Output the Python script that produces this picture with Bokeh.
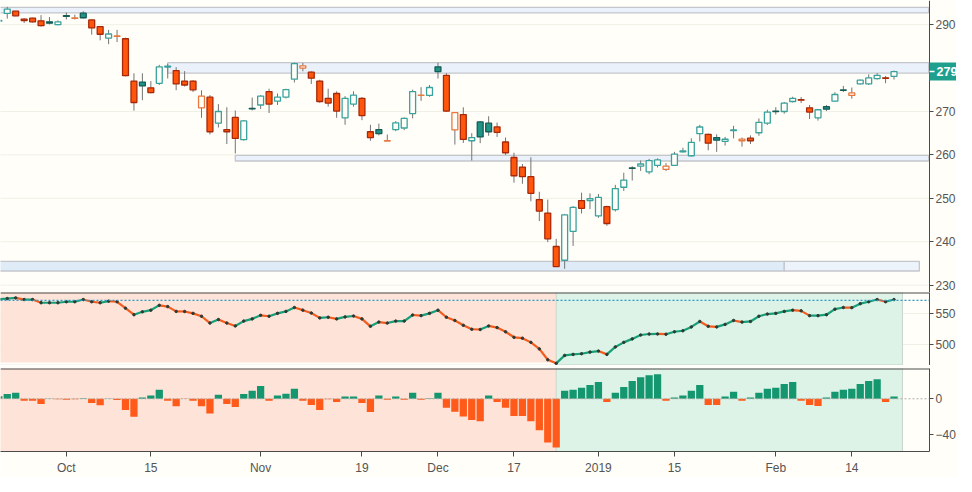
import pandas as pd
from bokeh.plotting import figure
from bokeh.layouts import column
from bokeh.models import Range1d, FixedTicker, Span, LinearAxis, ColumnDataSource
from bokeh.embed import file_html
from bokeh.resources import INLINE

# ---------------- data ----------------
holidays = ["2018-11-22", "2018-12-05", "2018-12-25", "2019-01-01", "2019-01-21", "2019-02-18"]
dates = [d for d in pd.bdate_range("2018-09-19", "2019-02-22") if d.strftime("%Y-%m-%d") not in holidays]

opens = [290.8, 292.6, 293.1, 291.3, 291.5, 290.88, 290.66, 290.0, 292.1, 291.45,
         292.64, 291.1, 289.56, 286.9, 287.3, 286.76, 277.0, 276.78, 275.46, 276.48,
         280.25, 279.43, 277.0, 277.0, 270.84, 273.3, 267.31, 265.84, 268.64, 263.5,
         270.7, 271.5, 274.58, 272.38, 273.33, 277.44, 280.0, 279.05, 277.0, 273.04,
         274.14, 268.55, 271.72, 273.04, 265.33, 265.84, 263.2, 265.84, 266.2, 269.52,
         273.7, 273.7, 280.3, 278.33, 265.77, 269.3, 263.26, 267.6, 267.3, 266.44,
         262.97, 259.4, 257.2, 254.98, 249.7, 246.6, 238.9, 235.73, 242.4, 249.47,
         249.47, 245.95, 248.07, 247.4, 252.55, 257.0, 257.4, 256.1, 257.6, 256.65,
         257.6, 260.7, 259.8, 264.89, 264.74, 264.0, 263.13, 265.6, 263.26, 263.85,
         265.1, 267.3, 270.1, 270.0, 272.3, 272.7, 270.84, 268.55, 271.1, 272.38,
         274.95, 273.7, 276.34, 276.34, 277.58, 277.75, 278.1]
highs = [291.4, 294.1, 293.15, 291.5, 291.6, 292.2, 291.76, 291.0, 292.8, 292.3,
         293.1, 291.2, 289.7, 288.8, 288.8, 287.0, 278.8, 278.8, 277.0, 280.75,
         281.0, 280.2, 279.3, 277.2, 274.87, 273.77, 271.7, 270.97, 270.24, 268.0,
         273.2, 273.77, 275.24, 274.14, 275.24, 281.26, 281.2, 279.27, 277.3, 275.24,
         274.65, 273.55, 274.65, 273.33, 266.94, 267.2, 264.7, 267.8, 268.63, 275.02,
         275.6, 276.1, 281.26, 278.83, 269.87, 270.97, 265.0, 267.8, 268.9, 267.45,
         264.0, 260.5, 257.9, 259.45, 251.5, 249.7, 240.66, 246.4, 248.2, 251.3,
         251.15, 251.0, 248.3, 253.1, 255.9, 257.4, 258.7, 259.07, 259.2, 258.1,
         260.7, 261.65, 263.8, 266.94, 264.9, 264.74, 264.14, 266.7, 264.0, 264.5,
         268.4, 270.4, 271.0, 272.2, 273.4, 273.33, 271.5, 270.6, 271.5, 274.43,
         275.9, 275.53, 277.36, 278.55, 278.83, 278.2, 279.43]
lows = [290.2, 291.4, 291.95, 290.4, 290.5, 289.56, 290.07, 289.85, 291.2, 291.2,
        291.4, 287.7, 286.4, 285.5, 286.0, 278.1, 270.2, 272.6, 274.2, 276.1,
        277.6, 274.9, 275.75, 274.5, 268.55, 264.7, 266.3, 262.5, 260.33, 263.3,
        270.25, 270.6, 269.65, 271.5, 273.0, 276.7, 279.27, 276.34, 272.0, 271.12,
        268.55, 266.94, 271.12, 268.0, 263.26, 264.5, 263.2, 265.46, 265.7, 268.41,
        272.45, 273.4, 277.58, 269.87, 262.38, 262.75, 258.7, 262.7, 264.4, 264.14,
        260.0, 253.6, 253.35, 249.3, 244.76, 239.9, 234.2, 233.75, 239.03, 246.5,
        247.5, 245.5, 243.66, 246.96, 251.7, 254.1, 256.3, 255.55, 257.1, 256.3,
        257.47, 260.55, 259.6, 263.1, 261.06, 260.7, 262.16, 263.8, 261.9, 262.5,
        264.4, 266.9, 269.3, 269.5, 272.07, 271.94, 268.26, 267.9, 270.1, 272.2,
        274.5, 272.95, 276.2, 276.1, 277.36, 276.5, 277.36]
closes = [291.0, 293.6, 292.05, 290.95, 290.66, 289.78, 290.35, 290.66, 291.9, 291.55,
          291.6, 289.25, 287.8, 287.85, 287.4, 278.24, 272.07, 275.9, 274.36, 280.3,
          280.45, 276.34, 276.1, 275.0, 273.55, 265.33, 270.0, 265.33, 263.79, 267.82,
          270.6, 273.55, 271.72, 273.33, 275.02, 281.04, 280.53, 277.67, 272.3, 271.94,
          270.09, 273.04, 273.77, 269.07, 264.0, 264.89, 263.26, 267.38, 268.41, 274.58,
          273.77, 275.53, 279.2, 270.09, 269.73, 263.57, 264.0, 264.15, 265.33, 265.2,
          260.5, 255.2, 254.98, 251.15, 247.05, 240.66, 234.27, 246.2, 247.9, 247.7,
          249.9, 250.2, 244.2, 252.25, 254.2, 256.9, 257.9, 258.7, 258.85, 257.4,
          260.18, 260.9, 262.9, 266.43, 262.7, 263.4, 263.6, 265.75, 263.63, 263.26,
          267.5, 269.87, 270.0, 271.94, 273.04, 272.6, 269.87, 270.4, 270.53, 273.92,
          274.87, 274.27, 277.22, 277.73, 278.33, 277.66, 279.2]

breadth = [573.0, 574.1, 575.2, 572.5, 572.5, 567.3, 567.3, 567.3, 568.9, 568.9,
           572.5, 568.9, 567.3, 569.9, 568.9, 558.4, 547.8, 552.5, 555.2, 563.1,
           561.0, 553.2, 553.0, 550.0, 545.3, 534.2, 539.9, 534.2, 529.5, 537.4,
           541.0, 546.8, 545.3, 550.0, 553.2, 559.5, 555.2, 550.5, 542.6, 543.7,
           541.0, 544.2, 545.7, 541.0, 528.9, 535.8, 534.2, 537.4, 537.5, 547.3,
           546.3, 550.0, 555.2, 543.7, 538.4, 530.5, 524.1, 523.7, 529.5, 526.8,
           520.0, 511.0, 509.5, 502.7, 492.1, 474.3, 468.5, 481.5, 483.1, 484.2,
           486.9, 488.5, 483.1, 495.3, 502.7, 508.4, 514.7, 516.3, 516.4, 516.0,
           520.0, 521.6, 527.9, 536.8, 528.9, 527.9, 532.0, 538.4, 535.8, 536.8,
           545.3, 548.9, 550.0, 553.2, 555.2, 554.1, 546.3, 546.3, 547.8, 556.8,
           559.5, 559.3, 565.8, 568.9, 572.5, 568.9, 572.5]

hist = [3.0, 5.4, 6.9, -2.2, -2.2, -5.8, 0.3, -0.4, -1.0, -0.5,
        0.5, -4.7, -7.3, 0.4, -1.5, -12.7, -20.3, 1.5, 3.6, 10.2,
        -2.2, -8.4, -0.3, -2.2, -8.4, -16.7, 4.7, -5.8, -9.4, 5.4,
        9.1, 14.5, -2.2, 3.6, 5.8, 11.3, -2.2, -6.9, -12.7, -0.4,
        -3.6, 2.5, 2.5, -4.7, -14.9, 3.6, -1.1, 2.5, -1.1, 6.9,
        -1.1, 0.7, 6.9, -10.2, -14.5, -20.0, -24.0, -25.4, 3.6, -3.6,
        -10.2, -19.3, -19.3, -25.4, -35.6, -49.4, -54.9, 9.1, 10.2, 12.4,
        15.6, 18.9, -3.6, 6.9, 13.4, 20.0, 24.3, 26.5, 27.6, -2.2,
        1.5, 3.6, 9.1, 15.6, -6.9, -6.9, 2.5, 8.0, -2.2, 1.5,
        6.9, 11.3, 12.4, 16.7, 18.9, -2.2, -6.9, -8.0, 1.5, 8.0,
        10.2, 11.3, 16.7, 20.0, 22.2, -3.6, 2.5]

# support / resistance zones (price bands) and their day spans
band_bottom = [292.7, 278.85, 258.6, 233.25, 233.25]
band_top = [294.0, 281.25, 259.9, 235.45, 235.45]
band_start = [-2, 20, 28, -2, 93]
band_end = [110.1, 110.1, 110.1, 93, 109]
band_fill = ["#eaf1fa", "#eaf1fa", "#eaf1fa", "#e0ebf8", "#edf3fb"]

regime_split = 66       # Dec 24 low: bearish before, bullish after
regime_end = 107
breadth_ref = 571

tick_dates = ["2018-10-01", "2018-10-15", "2018-11-01", "2018-11-19", "2018-12-03",
              "2018-12-17", "2019-01-02", "2019-01-15", "2019-02-01", "2019-02-14"]
tick_labels = ["Oct", "15", "Nov", "19", "Dec", "17", "2019", "15", "Feb", "14"]
price_ticks = [230, 240, 250, 260, 270, 290]
breadth_ticks = [500, 550]
hist_ticks = [-40, 0]

# ---------------- derived ----------------
n = len(closes)
idx = list(range(n))
date_str = [d.strftime("%Y-%m-%d") for d in dates]
tick_pos = [date_str.index(t) for t in tick_dates]

BG = "#fffef8"
FONT = "Liberation Sans"
AX = "#4a4a4a"
TXT = "#555555"
TAG = "#1fa08f"

fills, lines, tops, bots = [], [], [], []
for i in idx:
    o, c = opens[i], closes[i]
    prev = closes[i - 1] if i > 0 else o
    up_body = c > o
    rising = c >= prev
    if up_body and rising:
        fills.append(BG); lines.append("#3aa29d")
    elif up_body:
        fills.append(BG); lines.append("#e8783e")
    elif rising:
        fills.append("#1f9386"); lines.append("#155c55")
    else:
        fills.append("#ff560c"); lines.append("#a8290a")
    t, b = max(o, c), min(o, c)
    if t - b < 0.06:
        t = b + 0.06
    tops.append(t); bots.append(b)

candles = ColumnDataSource(dict(x=idx, o=opens, h=highs, l=lows, c=closes,
                                top=tops, bot=bots, fill=fills, line=lines))

FW = 929          # frame width of the lower panels
TOTAL_W = 956     # full figure width
X0, X1 = 0.2, 110.2
xr = Range1d(X0, X1)
# main panel spans the whole width (its axis is pinned at X1), same scale as below
xr_main = Range1d(X0, X0 + (X1 - X0) * TOTAL_W / FW)


def style_axis(ax):
    ax.axis_line_color = AX
    ax.major_tick_line_color = AX
    ax.minor_tick_line_color = None
    ax.major_tick_out = 4
    ax.major_tick_in = 0
    ax.major_label_standoff = 2
    ax.major_label_text_color = TXT
    ax.major_label_text_font = FONT
    ax.major_label_text_font_size = "12px"


def style(p):
    p.background_fill_color = BG
    p.border_fill_color = BG
    p.outline_line_color = None
    p.xgrid.grid_line_color = None
    p.ygrid.grid_line_color = "#f1f0e6"
    for ax in p.yaxis:
        style_axis(ax)


# ---------------- main price panel ----------------
p1 = figure(frame_width=TOTAL_W, frame_height=292, x_range=xr_main, y_range=Range1d(228.3, 295.57),
            x_axis_location=None, y_axis_location="right", toolbar_location=None,
            output_backend="svg", min_border=0)
style(p1)
p1.yaxis[0].fixed_location = X1
p1.yaxis[0].ticker = FixedTicker(ticks=price_ticks)
p1.ygrid.grid_line_color = None
p1.segment(x0=X0 - 1, x1=X1, y0=price_ticks, y1=price_ticks, line_color="#f1f0e6", line_width=1)

bands = ColumnDataSource(dict(left=band_start, right=band_end, bottom=band_bottom,
                              top=band_top, fill=band_fill))
p1.quad(left="left", right="right", bottom="bottom", top="top", source=bands,
        fill_color="fill", line_color="#c4c6cc", line_width=1.3)

p1.segment(x0="x", y0="l", x1="x", y1="h", source=candles, line_color="#747474", line_width=1)
p1.vbar(x="x", width=0.7, top="top", bottom="bot", source=candles,
        fill_color="fill", line_color="line", line_width=1.3)

# last-price tag: extra axes pinned at X1, a thick tick forms the box, a thin white tick the marker
last = closes[-1]
tag_axis = LinearAxis(fixed_location=X1, ticker=FixedTicker(ticks=[last]),
                      major_label_overrides={last: str(int(last))})
tag_axis.axis_line_color = None
tag_axis.minor_tick_line_color = None
tag_axis.major_tick_in = 0
tag_axis.major_tick_out = 27
tag_axis.major_tick_line_width = 18
tag_axis.major_tick_line_cap = "butt"
tag_axis.major_tick_line_color = TAG
tag_axis.major_label_standoff = -20
tag_axis.major_label_text_color = "white"
tag_axis.major_label_text_font = FONT
tag_axis.major_label_text_font_size = "12.5px"
tag_axis.major_label_text_font_style = "bold"
p1.add_layout(tag_axis, "right")

mark_axis = LinearAxis(fixed_location=X1, ticker=FixedTicker(ticks=[last]),
                       major_label_overrides={last: ""})
mark_axis.axis_line_color = None
mark_axis.minor_tick_line_color = None
mark_axis.major_tick_in = 0
mark_axis.major_tick_out = 5
mark_axis.major_tick_line_width = 1.5
mark_axis.major_tick_line_color = "white"
p1.add_layout(mark_axis, "right")

# ---------------- breadth line panel ----------------
p2 = figure(frame_width=FW, frame_height=73, x_range=xr, y_range=Range1d(465.0, 584.0),
            x_axis_location=None, y_axis_location="right", toolbar_location=None,
            output_backend="svg", min_border=0)
p2.min_border_right = TOTAL_W - FW
style(p2)
p2.yaxis.ticker = FixedTicker(ticks=breadth_ticks)
p2.quad(left=-2, right=regime_split, bottom=470, top=600, fill_color="#fde3d8", line_color=None)
p2.quad(left=regime_split, right=regime_end, bottom=466, top=600, fill_color="#ddf3e7",
        line_color="#c9d6cd", line_width=1)
p2.quad(left=-2, right=regime_split, bottom=465.0, top=466.3, fill_color="#d9d9d4", line_color=None)
p2.add_layout(Span(location=breadth_ref, dimension="width", line_color="#2e9ac8",
                   line_dash="2 2", line_width=1.2))
seg_col = ["#17a078" if breadth[i + 1] >= breadth[i] else "#f25c1e" for i in range(n - 1)]
p2.segment(x0=idx[:-1], y0=breadth[:-1], x1=idx[1:], y1=breadth[1:], line_color=seg_col, line_width=2.2)
p2.scatter(idx, breadth, size=2.5, color="#2d3b35")
p2.add_layout(Span(location=583.6, dimension="width", line_color=AX, line_width=1.6))

# ---------------- histogram panel ----------------
p3 = figure(frame_width=FW, frame_height=83, x_range=xr, y_range=Range1d(-59.5, 34.2),
            x_axis_location="below", y_axis_location="right", toolbar_location=None,
            output_backend="svg", min_border=0)
p3.min_border_right = TOTAL_W - FW
p3.min_border_top = 3
style(p3)
p3.ygrid.grid_line_color = None
p3.yaxis.ticker = FixedTicker(ticks=hist_ticks)
p3.quad(left=-2, right=regime_split, bottom=-70, top=40, fill_color="#fde3d8", line_color=None)
p3.quad(left=regime_split, right=regime_end, bottom=-70, top=40, fill_color="#ddf3e7",
        line_color="#c9d6cd", line_width=1)
p3.add_layout(Span(location=0, dimension="width", line_color="#b0aaa6", line_dash="2 2", line_width=1))
hcol = ["#14966f" if v >= 0 else "#ff5a1a" for v in hist]
p3.vbar(x=idx, top=hist, bottom=0, width=0.86, fill_color=hcol, line_color=None)
p3.add_layout(Span(location=34.1, dimension="width", line_color=AX, line_width=1.6))

xa = p3.xaxis[0]
xa.ticker = FixedTicker(ticks=tick_pos)
xa.major_label_overrides = {pos: lab for pos, lab in zip(tick_pos, tick_labels)}
xa.axis_line_color = AX
xa.major_tick_line_color = AX
xa.minor_tick_line_color = None
xa.major_tick_out = 5
xa.major_tick_in = 0
xa.major_label_standoff = 4
xa.major_label_text_color = TXT
xa.major_label_text_font = FONT
xa.major_label_text_font_size = "12px"
p3.min_border_bottom = 24

layout = column(p1, p2, p3, spacing=0)
open("out.html", "w").write(file_html(layout, INLINE))
